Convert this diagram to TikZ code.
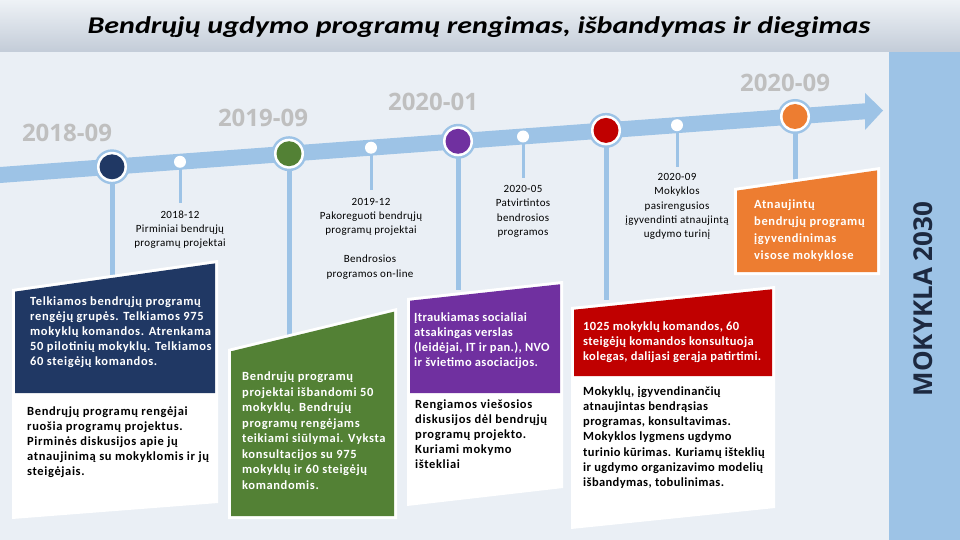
\documentclass[tikz,border=0pt]{standalone}
\usepackage{fontspec}
\setmainfont{Carlito}
\newfontfamily\yearfont{Open Sans}
\newfontfamily\cardfont{Carlito}[LetterSpace=5]
\newfontfamily\redfont{Carlito}[LetterSpace=3]
\newfontfamily\capfont{Carlito}[LetterSpace=3]
\definecolor{bg}{HTML}{EAEFF5}
\definecolor{titletop}{HTML}{EEF2F6}
\definecolor{titlebot}{HTML}{C3CCD8}
\definecolor{band}{HTML}{9DC3E6}
\definecolor{navy}{HTML}{203864}
\definecolor{grn}{HTML}{538135}
\definecolor{purp}{HTML}{7030A0}
\definecolor{redc}{HTML}{C00000}
\definecolor{orng}{HTML}{ED7D31}
\definecolor{yeargray}{HTML}{BFBFBF}
\definecolor{mokcol}{HTML}{1D2940}
\tikzset{
  stem/.style={band, line width=5pt},
  minorstem/.style={band, line width=3pt},
  year/.style={font=\yearfont\bfseries\fontsize{24}{28}\selectfont, text=yeargray, inner sep=0pt},
  caption/.style={font=\capfont\fontsize{11}{14.3}\selectfont, align=center, inner sep=0pt},
  cardtxt/.style={font=\cardfont\bfseries\fontsize{12.5}{15}\selectfont, align=left, inner sep=0pt, anchor=west},
  wtxt/.style={cardtxt, text=white},
  btxt/.style={cardtxt, text=black},
  ring/.style={circle, fill=band, minimum size=35pt, inner sep=0pt},
  dot/.style={circle, fill=white, minimum size=12pt, inner sep=0pt},
}
\begin{document}
\begin{tikzpicture}[x=1pt,y=-1pt]
\fill[bg] (0,0) rectangle (960,540);
\useasboundingbox (0,0) rectangle (960,540);
\shade[top color=titletop, bottom color=titlebot] (0,0) rectangle (960,52);
\node[font=\bfseries\itshape\fontsize{24}{28}\selectfont, inner sep=0pt] (title) at (479,27) {\scalebox{1.25}[1]{Bendrųjų ugdymo programų rengimas, išbandymas ir diegimas}};

% right bar
\fill[band] (889,52) rectangle (960,540);
\node[rotate=90, font=\yearfont\bfseries\fontsize{26}{30}\selectfont, text=mokcol, inner sep=0pt] (mok) at (923,299) {MOKYKLA 2030};

% timeline band with arrow
\fill[band] (0,167) -- (865,103.3) -- (865,93) -- (883,110.5) -- (865,130) -- (865,119.3) -- (0,183) -- cycle;

% anchor points on the timeline
\coordinate (p1) at (112,166.8);
\coordinate (p2) at (289,153.7);
\coordinate (p3) at (458,141.3);
\coordinate (p4) at (606,130.4);
\coordinate (p5) at (795,116.5);
\coordinate (d1) at (180,161.8);
\coordinate (d2) at (371,147.7);
\coordinate (d3) at (523,136.5);
\coordinate (d4) at (677,125.2);
% stem ends
\coordinate (s1) at (112,280);
\coordinate (s2) at (289,340);
\coordinate (s3) at (458,290);
\coordinate (s4) at (606,300);
\coordinate (s5) at (795,185);
\coordinate (e1) at (180,203);
\coordinate (e2) at (371,190);
\coordinate (e3) at (523,178);
\coordinate (e4) at (677,167);

\draw[stem] (p1) -- (s1);
\draw[stem] (p2) -- (s2);
\draw[stem] (p3) -- (s3);
\draw[stem] (p4) -- (s4);
\draw[stem] (p5) -- (s5);
\draw[minorstem] (d1) -- (e1);
\draw[minorstem] (d2) -- (e2);
\draw[minorstem] (d3) -- (e3);
\draw[minorstem] (d4) -- (e4);

% milestone circles
\foreach \p/\c in {p1/navy,p2/grn,p3/purp,p4/redc,p5/orng}{
  \node[ring] (\p r) at (\p) {};
  \fill[white] (\p) circle (15);
  \fill[\c] (\p) circle (12.5);
}
\foreach \d in {d1,d2,d3,d4}{ \node[dot] (\d n) at (\d) {}; }

% year labels
\node[year] (y1) at (67,133) {2018-09};
\node[year] (y2) at (263,118) {2019-09};
\node[year] (y3) at (433,102) {2020-01};
\node[year] (y4) at (785,83) {2020-09};

% captions
\node[caption] (c1) at (180,229.5) {2018-12\\Pirminiai bendrųjų\\programų projektai};
\node[caption] (c2) at (371,217) {2019-12\\Pakoreguoti bendrųjų\\programų projektai};
\node[caption] (c3) at (370,267) {Bendrosios\\programos on-line};
\node[caption] (c4) at (523,211.5) {2020-05\\Patvirtintos\\bendrosios\\programos};
\node[caption] (c5) at (677,206.5) {2020-09\\Mokyklos\\pasirengusios\\įgyvendinti atnaujintą\\ugdymo turinį};

% navy card
\fill[white] (12,289) -- (218,260) -- (218,503) -- (12,519) -- cycle;
\fill[navy] (15,291.6) -- (215,263.4) -- (215,393) -- (15,393) -- cycle;
\node[wtxt] (t1) at (30,332) {Telkiamos bendrųjų programų\\rengėjų grupės. Telkiamos 975\\mokyklų komandos. Atrenkama\\50 pilotinių mokyklų. Telkiamos\\60 steigėjų komandos.};
\node[btxt] (b1) at (27,442) {Bendrųjų programų rengėjai\\ruošia programų projektus.\\Pirminės diskusijos apie jų\\atnaujinimą su mokyklomis ir jų\\steigėjais.};

% green card
\fill[white] (228,349) -- (397,308) -- (397,519) -- (228,519) -- cycle;
\fill[grn] (231,351.3) -- (394,311.7) -- (394,516) -- (231,516) -- cycle;
\node[wtxt, font=\cardfont\bfseries\fontsize{12.5}{15.5}\selectfont] (t2) at (242,430.5) {Bendrųjų programų\\projektai išbandomi 50\\mokyklų. Bendrųjų\\programų rengėjams\\teikiami siūlymai. Vyksta\\konsultacijos su 975\\mokyklų ir 60 steigėjų\\komandomis.};

% purple card
\fill[white] (407,298) -- (563,281) -- (563,488) -- (407,506) -- cycle;
\fill[purp] (410,300.7) -- (560,284.3) -- (560,393) -- (410,393) -- cycle;
\node[wtxt, font=\redfont\bfseries\fontsize{12.5}{15}\selectfont] (t3) at (414,340.5) {Įtraukiamas socialiai\\atsakingas verslas\\(leidėjai, IT ir pan.), NVO\\ir švietimo asociacijos.};
\node[btxt] (b3) at (415,434.5) {Rengiamos viešosios\\diskusijos dėl bendrųjų\\programų projekto.\\Kuriami mokymo\\ištekliai};

% red card
\fill[white] (571,307) -- (775,286) -- (775,508) -- (571,529) -- cycle;
\fill[redc] (574,309.7) -- (772,289.3) -- (772,376) -- (574,376) -- cycle;
\node[wtxt, font=\redfont\bfseries\fontsize{12.5}{15}\selectfont] (t4) at (583,342) {1025 mokyklų komandos, 60\\steigėjų komandos konsultuoja\\kolegas, dalijasi gerąja patirtimi.};
\node[btxt, font=\redfont\bfseries\fontsize{12.5}{15.2}\selectfont] (b4) at (583,437.5) {Mokyklų, įgyvendinančių\\atnaujintas bendrąsias\\programas, konsultavimas.\\Mokyklos lygmens ugdymo\\turinio kūrimas. Kuriamų išteklių\\ir ugdymo organizavimo modelių\\išbandymas, tobulinimas.};

% orange card
\fill[white] (734,188) -- (880,167) -- (880,275) -- (734,275) -- cycle;
\fill[orng] (737,190.6) -- (877,170.4) -- (877,272) -- (737,272) -- cycle;
\node[wtxt, font=\cardfont\bfseries\fontsize{12.5}{17}\selectfont] (t5) at (754,230.5) {Atnaujintų\\bendrųjų programų\\įgyvendinimas\\visose mokyklose};
\end{tikzpicture}
\end{document}
